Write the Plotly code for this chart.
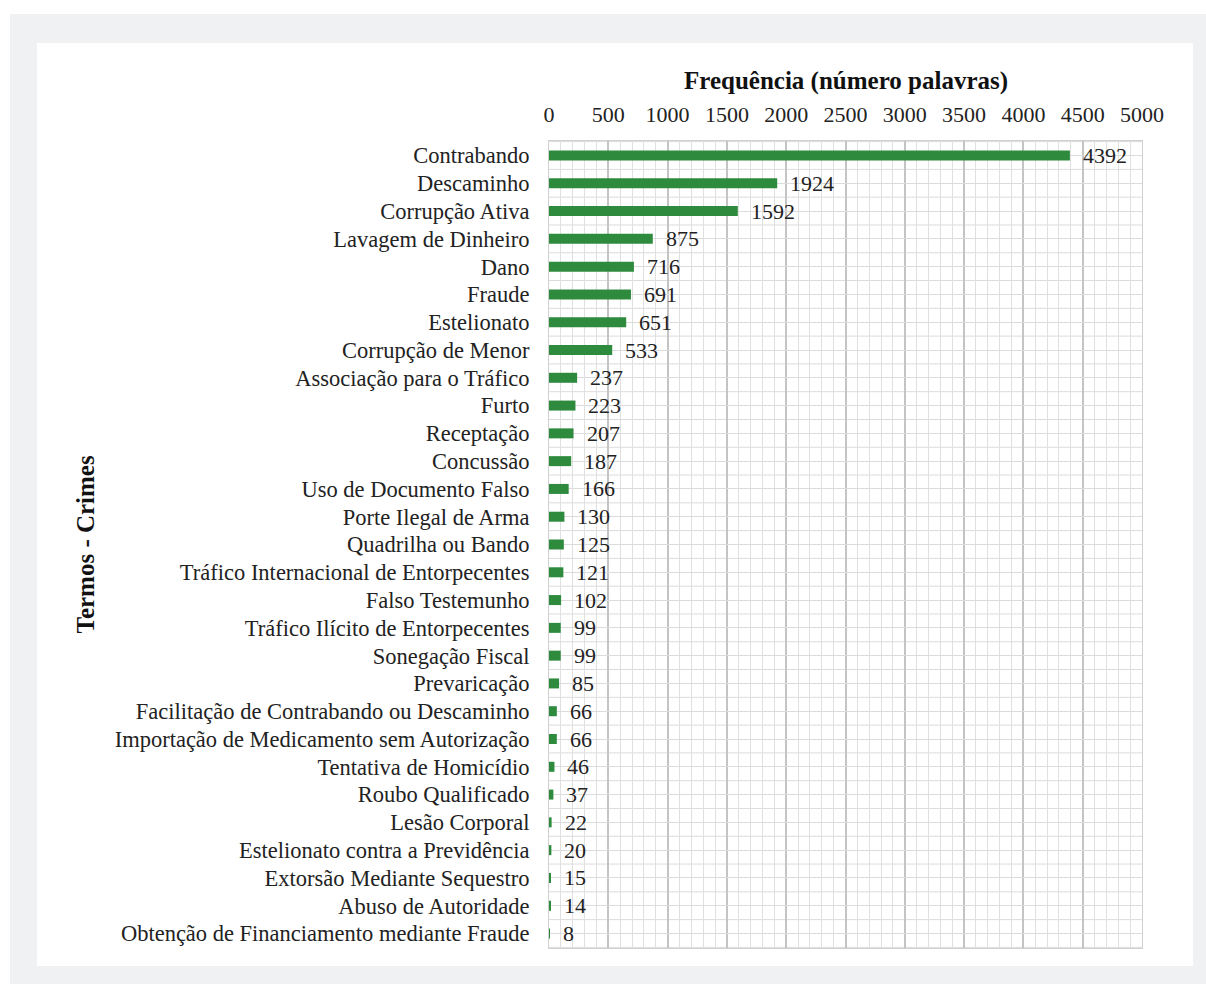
import plotly.graph_objects as go

categories = [
    "Contrabando", "Descaminho", "Corrupção Ativa", "Lavagem de Dinheiro", "Dano",
    "Fraude", "Estelionato", "Corrupção de Menor", "Associação para o Tráfico", "Furto",
    "Receptação", "Concussão", "Uso de Documento Falso", "Porte Ilegal de Arma",
    "Quadrilha ou Bando", "Tráfico Internacional de Entorpecentes", "Falso Testemunho",
    "Tráfico Ilícito de Entorpecentes", "Sonegação Fiscal", "Prevaricação",
    "Facilitação de Contrabando ou Descaminho", "Importação de Medicamento sem Autorização",
    "Tentativa de Homicídio", "Roubo Qualificado", "Lesão Corporal",
    "Estelionato contra a Previdência", "Extorsão Mediante Sequestro",
    "Abuso de Autoridade", "Obtenção de Financiamento mediante Fraude",
]
values = [4392, 1924, 1592, 875, 716, 691, 651, 533, 237, 223, 207, 187, 166, 130,
          125, 121, 102, 99, 99, 85, 66, 66, 46, 37, 22, 20, 15, 14, 8]
x_ticks = [0, 500, 1000, 1500, 2000, 2500, 3000, 3500, 4000, 4500, 5000]

FONT = "Liberation Serif"
W, H = 1206, 984
L, R, T, B = 549, 1142, 141, 948
pw, ph = R - L, B - T

def px(x):
    return (x - L) / pw

def py(y):
    return (B - y) / ph

fig = go.Figure()
fig.add_trace(go.Bar(
    x=values, y=categories, orientation="h",
    marker=dict(color="#2e8b3e", line=dict(width=0)),
    width=0.36, hoverinfo="x+y",
))

shapes = [
    dict(type="rect", xref="paper", yref="paper", x0=px(10), x1=px(1206), y0=py(984), y1=py(14),
         fillcolor="#f0f1f3", line=dict(width=0), layer="below"),
    dict(type="rect", xref="paper", yref="paper", x0=px(37), x1=px(1193), y0=py(966), y1=py(43),
         fillcolor="#ffffff", line=dict(width=0), layer="below"),
]
for i in range(len(categories) + 1):
    shapes.append(dict(type="line", xref="paper", yref="y", x0=0, x1=1, y0=i - 0.5, y1=i - 0.5,
                       line=dict(color="#dcdcdc", width=1), layer="below"))

annotations = []
for c, v in zip(categories, values):
    annotations.append(dict(x=v, y=c, xref="x", yref="y", text=str(v), showarrow=False,
                            xanchor="left", xshift=11, font=dict(family=FONT, size=22, color="#222")))
annotations.append(dict(x=0.5, y=py(81), xref="paper", yref="paper", text="<b>Frequência (número palavras)</b>",
                        showarrow=False, xanchor="center", yanchor="middle",
                        font=dict(family=FONT, size=25, color="#111")))
annotations.append(dict(x=px(85), y=0.5, xref="paper", yref="paper", text="<b>Termos - Crimes</b>",
                        showarrow=False, textangle=-90, xanchor="center", yanchor="middle",
                        font=dict(family=FONT, size=25, color="#111")))

fig.update_layout(
    width=W, height=H,
    margin=dict(l=L, r=W - R, t=T, b=H - B, pad=0),
    paper_bgcolor="#ffffff", plot_bgcolor="rgba(0,0,0,0)",
    showlegend=False, shapes=shapes, annotations=annotations,
    font=dict(family=FONT, size=22, color="#222"),
)
fig.update_xaxes(
    side="top", range=[0, 5000], tickvals=x_ticks, ticktext=[str(t) for t in x_ticks],
    showgrid=True, gridcolor="#c4c4c4", gridwidth=1.5,
    minor=dict(dtick=100, showgrid=True, gridcolor="#e0e0e0", gridwidth=1),
    showline=True, linecolor="#d0d0d0", mirror=True, zeroline=False,
    ticks="", ticklabelstandoff=9, tickfont=dict(family=FONT, size=22, color="#222"),
    fixedrange=True,
)
fig.update_yaxes(
    type="category", autorange="reversed", showgrid=True, gridcolor="#dcdcdc", gridwidth=1,
    showline=True, linecolor="#d0d0d0", mirror=True, zeroline=False,
    ticks="", ticklabelstandoff=14, tickfont=dict(family=FONT, size=22.5, color="#222"),
    fixedrange=True,
)

fig.write_html(
    "out.html",
    config={"displayModeBar": False},
    post_script="document.body.style.margin='0';document.body.style.overflow='hidden';",
)
